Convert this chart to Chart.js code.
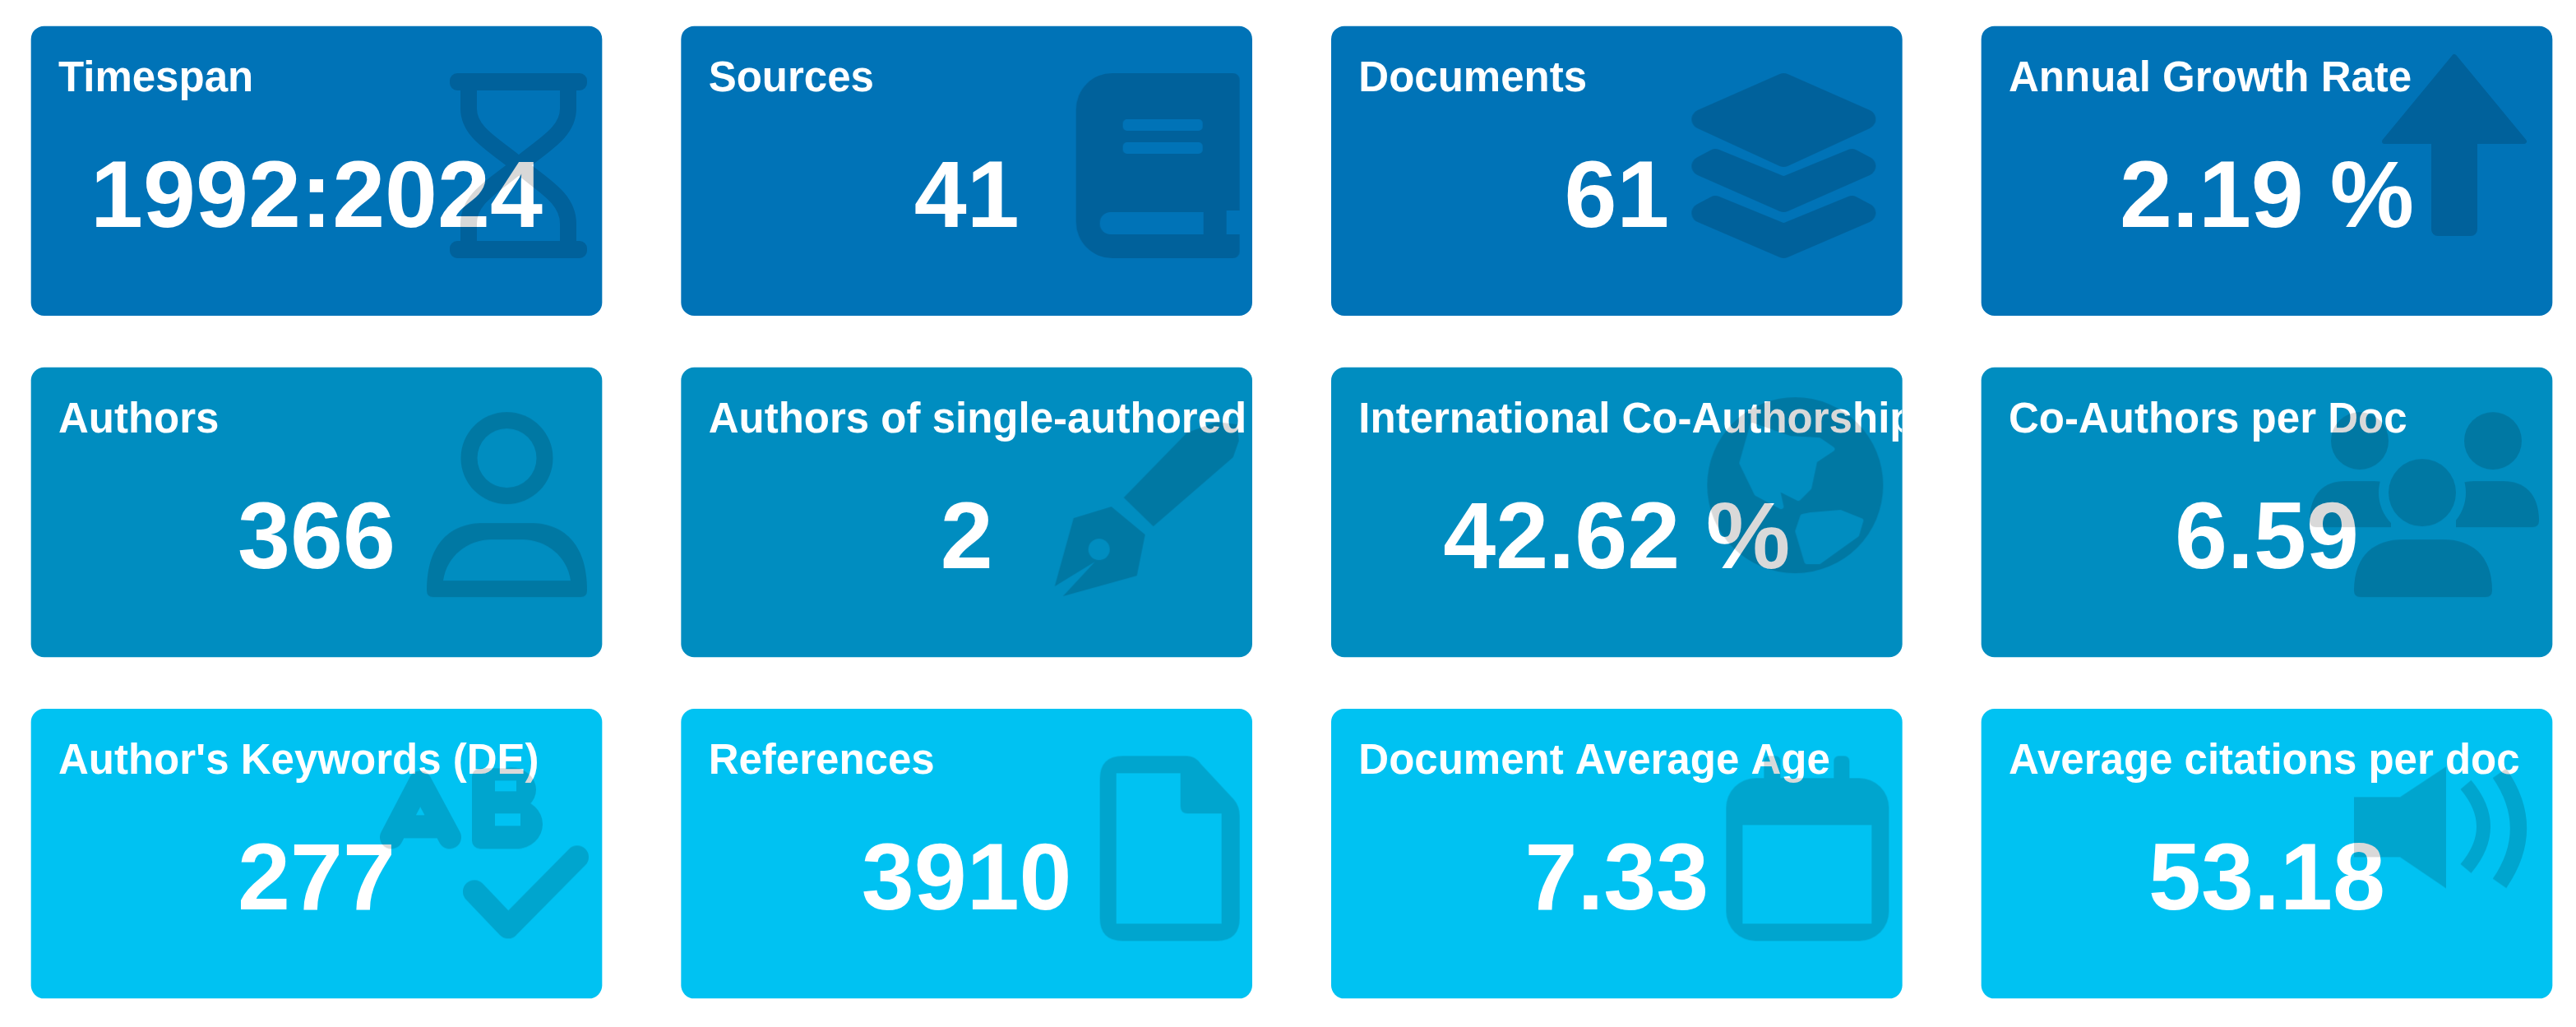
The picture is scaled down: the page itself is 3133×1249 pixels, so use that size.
<!DOCTYPE html>
<html>
<head>
<meta charset="utf-8">
<title>Main information</title>
<script src="https://cdn.jsdelivr.net/npm/chart.js@4"></script>
<style>
  html, body { margin: 0; padding: 0; background: #fff; overflow: hidden; }
  #wrap { width: 3133px; height: 1249px; }
</style>
</head>
<body>
<div id="wrap"><canvas id="boxes"></canvas></div>
<script>
var columns = ['col1', 'col2', 'col3', 'col4'];

var topTitles = ['Timespan', 'Sources', 'Documents', 'Annual Growth Rate'];
var topValues = ['1992:2024', '41', '61', '2.19 %'];
var topIcons = ['hourglass', 'book', 'layers', 'arrow'];

var middleTitles = ['Authors', 'Authors of single-authored docs', 'International Co-Authorship', 'Co-Authors per Doc'];
var middleValues = ['366', '2', '42.62 %', '6.59'];
var middleIcons = ['user', 'pen', 'globe', 'users'];

var bottomTitles = ["Author's Keywords (DE)", 'References', 'Document Average Age', 'Average citations per doc'];
var bottomValues = ['277', '3910', '7.33', '53.18'];
var bottomIcons = ['spellcheck', 'file', 'calendar', 'volume'];

// one tile takes this share of a row on the y scale
var TILE_SPAN = 0.847;
var TILE_W = 694;
var TILE_H = 352;
var FONT = '"Liberation Sans", Arial, sans-serif';

function poly(c, pts) {
  c.beginPath();
  pts.forEach(function (p, i) {
    if (i === 0) c.moveTo(p[0], p[1]); else c.lineTo(p[0], p[1]);
  });
  c.closePath();
}

function cut(c, draw) {
  c.globalCompositeOperation = 'destination-out';
  draw();
  c.globalCompositeOperation = 'source-over';
}

function dome(c, x0, x1, top, bottom) {
  var w = x1 - x0;
  c.beginPath();
  c.moveTo(x0, bottom - 8);
  c.bezierCurveTo(x0, top + (bottom - top) * 0.25, x0 + w * 0.16, top, x0 + w * 0.35, top);
  c.lineTo(x1 - w * 0.35, top);
  c.bezierCurveTo(x1 - w * 0.16, top, x1, top + (bottom - top) * 0.25, x1, bottom - 8);
  c.quadraticCurveTo(x1, bottom, x1 - 8, bottom);
  c.lineTo(x0 + 8, bottom);
  c.quadraticCurveTo(x0, bottom, x0, bottom - 8);
  c.closePath();
  c.fill();
}

// the watermark glyphs, in px from the tile's top left corner
var ICONS = {
  hourglass: function (c) {
    c.beginPath(); c.roundRect(509, 57, 167, 21, 9); c.roundRect(509, 261, 167, 21, 9); c.fill();
    c.lineWidth = 20;
    c.beginPath();
    c.moveTo(532, 70); c.lineTo(532, 100);
    c.bezierCurveTo(532, 130, 565, 145, 593, 169);
    c.bezierCurveTo(621, 193, 653, 208, 653, 240); c.lineTo(653, 270);
    c.moveTo(653, 70); c.lineTo(653, 100);
    c.bezierCurveTo(653, 130, 621, 145, 593, 169);
    c.bezierCurveTo(565, 193, 532, 208, 532, 240); c.lineTo(532, 270);
    c.stroke();
  },
  book: function (c) {
    c.beginPath(); c.roundRect(480, 57, 199, 225, [44, 8, 8, 44]); c.fill();
    cut(c, function () {
      c.beginPath(); c.roundRect(509, 226, 126, 27, [13, 0, 0, 13]); c.fill();
      c.beginPath(); c.roundRect(537, 113, 97, 14, 5); c.roundRect(537, 141, 97, 14, 5); c.fill();
      c.fillRect(663, 224, 20, 29);
    });
  },
  layers: function (c) {
    c.lineJoin = 'round';
    c.lineWidth = 24;
    poly(c, [[450, 113], [550, 69], [650, 113], [550, 159]]); c.fill(); c.stroke();
    poly(c, [[450, 170], [467, 161], [550, 195], [633, 161], [650, 170], [550, 214]]); c.fill(); c.stroke();
    poly(c, [[450, 227], [467, 218], [550, 252], [633, 218], [650, 227], [550, 270]]); c.fill(); c.stroke();
  },
  arrow: function (c) {
    c.lineJoin = 'round';
    c.lineWidth = 6;
    poly(c, [[575, 37], [660, 140], [490, 140]]); c.fill(); c.stroke();
    c.beginPath(); c.roundRect(547, 130, 56, 125, [0, 0, 8, 8]); c.fill();
  },
  user: function (c) {
    c.beginPath(); c.arc(578.5, 110, 56, 0, Math.PI * 2); c.fill();
    dome(c, 481, 676, 189, 279);
    cut(c, function () {
      c.beginPath(); c.arc(578.5, 110, 36, 0, Math.PI * 2); c.fill();
      c.beginPath();
      c.moveTo(501, 259);
      c.bezierCurveTo(505, 230, 530, 209, 560, 209);
      c.lineTo(597, 209);
      c.bezierCurveTo(627, 209, 652, 230, 656, 259);
      c.closePath();
      c.fill();
    });
  },
  pen: function (c) {
    poly(c, [[538, 158], [574, 193], [671, 109], [678, 89], [676, 69], [651, 66], [615, 79]]); c.fill();
    poly(c, [[523, 169], [564, 203], [554, 253], [464, 278], [503, 236], [454, 266], [477, 183]]); c.fill();
    cut(c, function () {
      c.beginPath(); c.arc(508, 221, 13, 0, Math.PI * 2); c.fill();
    });
  },
  globe: function (c) {
    c.beginPath(); c.arc(564, 143, 107, 0, Math.PI * 2); c.fill();
    cut(c, function () {
      c.lineJoin = 'round';
      c.lineWidth = 6;
      poly(c, [[512, 70], [558, 86], [593, 88], [609, 99], [588, 113], [581, 146], [568, 159], [542, 146], [547, 169], [517, 153], [499, 116]]);
      c.fill(); c.stroke();
      poly(c, [[573, 181], [567, 199], [578, 236], [593, 236], [639, 203], [644, 186], [619, 176], [583, 179]]);
      c.fill(); c.stroke();
    });
  },
  users: function (c) {
    c.beginPath(); c.arc(460, 89, 35, 0, Math.PI * 2); c.fill();
    c.beginPath(); c.arc(622, 89, 35, 0, Math.PI * 2); c.fill();
    dome(c, 399, 520, 138, 194);
    dome(c, 556, 678, 138, 194);
    cut(c, function () {
      c.beginPath(); c.arc(536, 152, 53, 0, Math.PI * 2); c.fill();
      c.fillRect(498, 176, 79, 20);
    });
    c.beginPath(); c.arc(536, 152, 41, 0, Math.PI * 2); c.fill();
    dome(c, 453, 621, 209, 279);
  },
  spellcheck: function (c) {
    c.lineCap = 'round';
    c.lineJoin = 'round';
    c.lineWidth = 28;
    c.beginPath();
    c.moveTo(438, 156); c.lineTo(473, 89); c.lineTo(509, 156);
    c.moveTo(452, 143); c.lineTo(495, 143);
    c.stroke();
    c.beginPath(); c.roundRect(536, 72, 66, 98, 10); c.fill();
    c.beginPath(); c.ellipse(590, 140, 32, 30, 0, 0, Math.PI * 2); c.ellipse(584, 98, 30, 27, 0, 0, Math.PI * 2); c.fill();
    cut(c, function () {
      c.fillRect(564, 127, 31, 15);
      c.fillRect(564, 87, 26, 13);
    });
    c.lineWidth = 28;
    c.beginPath(); c.moveTo(539, 222); c.lineTo(580, 265); c.lineTo(664, 180); c.stroke();
  },
  file: function (c) {
    c.beginPath();
    c.moveTo(509, 85); c.quadraticCurveTo(509, 57, 537, 57);
    c.lineTo(615, 57); c.quadraticCurveTo(625, 57, 632, 67);
    c.lineTo(672, 110); c.quadraticCurveTo(679, 118, 679, 130);
    c.lineTo(679, 254); c.quadraticCurveTo(679, 282, 651, 282);
    c.lineTo(537, 282); c.quadraticCurveTo(509, 282, 509, 254);
    c.closePath();
    c.fill();
    cut(c, function () {
      c.beginPath();
      c.moveTo(529, 78); c.lineTo(607, 78); c.lineTo(607, 118);
      c.quadraticCurveTo(607, 127, 616, 127);
      c.lineTo(657, 127); c.lineTo(657, 261); c.lineTo(529, 261);
      c.closePath();
      c.fill();
    });
  },
  calendar: function (c) {
    c.beginPath(); c.roundRect(480, 84, 198, 198, 36); c.fill();
    c.beginPath(); c.roundRect(526, 57, 20, 40, 6); c.roundRect(611, 57, 19, 40, 6); c.fill();
    cut(c, function () { c.fillRect(500, 141, 157, 120); });
  },
  volume: function (c) {
    poly(c, [[453, 107], [509, 107], [565, 70], [565, 218], [509, 180], [453, 180]]); c.fill();
    c.lineWidth = 17;
    c.beginPath(); c.moveTo(589, 92); c.quadraticCurveTo(632, 143, 589, 194); c.stroke();
    c.lineWidth = 20;
    c.beginPath(); c.moveTo(630, 78); c.quadraticCurveTo(676, 145, 630, 212); c.stroke();
  }
};

function drawIcon(ctx, name, x, y) {
  var layer = document.createElement('canvas');
  layer.width = TILE_W;
  layer.height = TILE_H;
  var c = layer.getContext('2d');
  c.fillStyle = '#000';
  c.strokeStyle = '#000';
  ICONS[name](c);
  ctx.save();
  ctx.globalAlpha = 0.15;
  ctx.drawImage(layer, x, y);
  ctx.restore();
}

var tileText = {
  id: 'tileText',
  afterDatasetsDraw: function (chart) {
    var ctx = chart.ctx;
    chart.data.datasets.forEach(function (ds, d) {
      chart.getDatasetMeta(d).data.forEach(function (bar, i) {
        var left = bar.x - bar.width / 2;
        var top = Math.min(bar.y, bar.base);
        ctx.save();
        ctx.beginPath();
        ctx.roundRect(left, top, bar.width, Math.abs(bar.base - bar.y), 16);
        ctx.clip();
        ctx.fillStyle = '#fff';
        ctx.textBaseline = 'alphabetic';
        ctx.textAlign = 'left';
        ctx.font = 'bold 51px ' + FONT;
        ctx.fillText(ds.titles[i], left + 33, top + 79);
        ctx.textAlign = 'center';
        ctx.font = 'bold 115px ' + FONT;
        ctx.fillText(ds.values[i], bar.x, top + 244);
        ctx.restore();
        drawIcon(ctx, ds.icons[i], left, top);
      });
    });
  }
};

function rowSpans(row) {
  return columns.map(function () { return [row, row + TILE_SPAN]; });
}

new Chart(document.getElementById('boxes'), {
  type: 'bar',
  data: {
    labels: columns,
    datasets: [
      { data: rowSpans(0), backgroundColor: '#0073b7', titles: topTitles, values: topValues, icons: topIcons },
      { data: rowSpans(1), backgroundColor: '#008dc0', titles: middleTitles, values: middleValues, icons: middleIcons },
      { data: rowSpans(2), backgroundColor: '#00c2f2', titles: bottomTitles, values: bottomValues, icons: bottomIcons }
    ].map(function (ds) {
      ds.grouped = false;
      ds.barThickness = TILE_W;
      ds.borderRadius = 16;
      ds.borderSkipped = false;
      ds.clip = false;
      return ds;
    })
  },
  options: {
    responsive: true,
    maintainAspectRatio: false,
    animation: false,
    layout: { padding: { left: 385, right: 376, top: 32, bottom: 35 } },
    plugins: { legend: { display: false }, tooltip: { enabled: false } },
    scales: {
      x: { display: false, offset: false },
      y: { display: false, reverse: true, min: 0, max: 2 + TILE_SPAN }
    }
  },
  plugins: [tileText]
});
</script>
</body>
</html>
